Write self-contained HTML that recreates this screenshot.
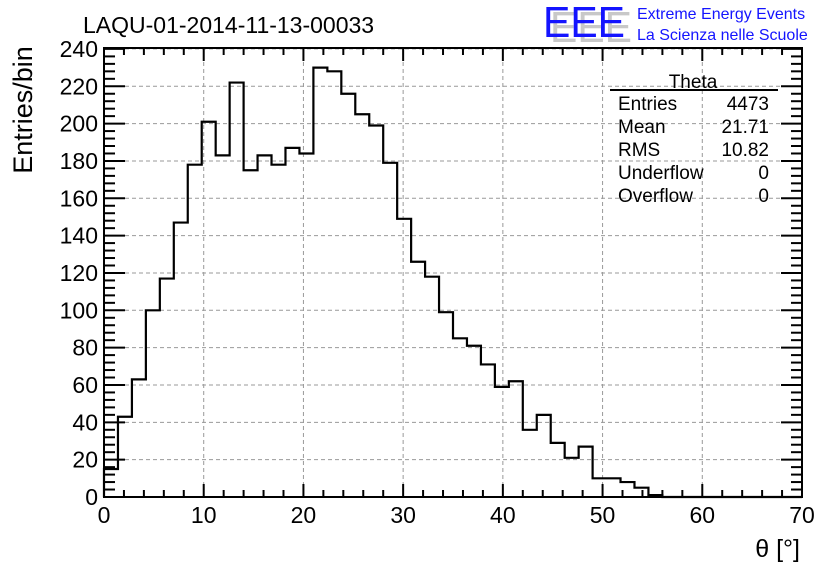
<!DOCTYPE html>
<html><head><meta charset="utf-8"><style>
html,body{margin:0;padding:0;background:#fff;}
svg{display:block;font-family:"Liberation Sans",sans-serif;}
</style></head><body>
<svg id="chart" width="836" height="572" viewBox="0 0 836 572">
<rect x="0" y="0" width="836" height="572" fill="#fff"/>
<text x="83" y="33" font-size="23" fill="#000">LAQU-01-2014-11-13-00033</text>
<g>
<text x="550" y="42" font-size="44" fill="#c8c8c8" textLength="82" lengthAdjust="spacingAndGlyphs">EEE</text>
<text x="543" y="37" font-size="44" fill="#1414ff" textLength="82" lengthAdjust="spacingAndGlyphs">EEE</text>
<text x="637" y="19" font-size="16" fill="#1414ff">Extreme Energy Events</text>
<text x="637" y="40" font-size="16" fill="#1414ff">La Scienza nelle Scuole</text>
</g>
<g id="grid"></g>
<g id="hist"></g>
<g id="axes"></g>
<text transform="translate(32,110) rotate(-90)" text-anchor="middle" font-size="27">Entries/bin</text>
<text x="800" y="557" text-anchor="end" font-size="25">θ [°]</text>
<g>
<text x="693" y="88" text-anchor="middle" font-size="19">Theta</text>
<line x1="610" y1="90" x2="778" y2="90" stroke="#000" stroke-width="2"/>
<g id="stats" font-size="19"></g>
</g>
</svg>
<script>
const binValues = [15,43,63,100,117,147,178,201,183,222,175,183,178,187,184,230,228,216,205,199,179,149,126,118,99,85,81,71,59,62,36,44,29,21,27,10,10,8,5,1,0,0,0,0,0,0,0,0,0,0];
const binWidth = 1.4;
const xTicks = [0,10,20,30,40,50,60,70];
const yTicks = [0,20,40,60,80,100,120,140,160,180,200,220,240];
const statLabels = ["Entries","Mean","RMS","Underflow","Overflow"];
const statValues = ["4473","21.71","10.82","0","0"];

const NS="http://www.w3.org/2000/svg";
const L=104,R=802,T=48,B=497;
const xMin=0,xMax=70,yMin=0,yMax=240.5;
const xs=v=>L+(v-xMin)/(xMax-xMin)*(R-L);
const ys=v=>B-(v-yMin)/(yMax-yMin)*(B-T);
function mk(tag,attrs,parent){const e=document.createElementNS(NS,tag);for(const k in attrs)e.setAttribute(k,attrs[k]);parent.appendChild(e);return e;}
const grid=document.getElementById('grid'),axes=document.getElementById('axes'),hist=document.getElementById('hist'),stats=document.getElementById('stats');
xTicks.forEach(v=>{if(v>xMin&&v<xMax){const l=mk('line',{x1:xs(v),x2:xs(v),y1:T,y2:B,stroke:'#999','stroke-dasharray':'4,3','stroke-width':1},grid);

}});
yTicks.forEach(v=>{if(v>yMin){const l=mk('line',{x1:L,x2:R,y1:ys(v),y2:ys(v),stroke:'#999','stroke-dasharray':'4,3','stroke-width':1},grid);

}});
let d='M'+xs(0)+','+ys(0);
binValues.forEach((v,i)=>{const x0=xs(i*binWidth),x1=xs((i+1)*binWidth);d+=' L'+x0+','+ys(v)+' L'+x1+','+ys(v);});
d+=' L'+xs(binValues.length*binWidth)+','+ys(0);
const p=mk('path',{d:d,fill:'none',stroke:'#000','stroke-width':2.2},hist);


const fr=mk('rect',{x:L,y:T,width:R-L,height:B-T,fill:'none',stroke:'#000','stroke-width':2},axes);


for(let v=xMin;v<=xMax;v+=2){const major=v%10===0;const len=major?13:7;
mk('line',{x1:xs(v),x2:xs(v),y1:B,y2:B-len,stroke:'#000','stroke-width':2},axes);
mk('line',{x1:xs(v),x2:xs(v),y1:T,y2:T+len,stroke:'#000','stroke-width':2},axes);}
xTicks.forEach(v=>{const t=mk('text',{x:xs(v),y:B+26,'text-anchor':'middle','font-size':23},axes);t.textContent=v;

});
for(let v=yMin;v<=240;v+=4){const major=v%20===0;const len=major?21:11;
mk('line',{x1:L,x2:L+len,y1:ys(v),y2:ys(v),stroke:'#000','stroke-width':2},axes);
mk('line',{x1:R,x2:R-len,y1:ys(v),y2:ys(v),stroke:'#000','stroke-width':2},axes);}
yTicks.forEach(v=>{const t=mk('text',{x:L-6,y:ys(v)+8,'text-anchor':'end','font-size':23},axes);t.textContent=v;

});
statLabels.forEach((s,i)=>{const y=110+i*23;
const a=mk('text',{x:618,y:y},stats);a.textContent=s;


const b=mk('text',{x:769,y:y,'text-anchor':'end'},stats);b.textContent=statValues[i];

});
</script>
</body></html>
